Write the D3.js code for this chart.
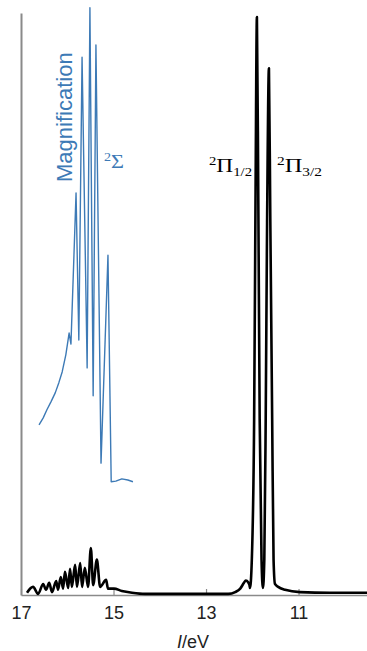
<!DOCTYPE html>
<meta charset='utf-8'>
<script src='https://cdnjs.cloudflare.com/ajax/libs/d3/7.8.5/d3.min.js'></script>
<style>body{margin:0;background:#fff;}</style>
<svg id='chart'></svg>
<script>
// photoelectron spectrum, energy (eV) vs intensity (arb.)
var blackEv=[16.87,16.74,16.63,16.52,16.46,16.39,16.33,16.24,16.20,16.14,16.09,16.05,15.98,15.94,15.90,15.83,15.79,15.72,15.68,15.62,15.55,15.49,15.44,15.36,15.29,15.16,15.12,14.99,14.82,14.60,14.32,12.52,12.37,12.26,12.18,12.14,12.09,12.06,12.05,12.01,11.96,11.93,11.90,11.87,11.84,11.80,11.77,11.74,11.71,11.68,11.64,11.61,11.57,11.54,11.51,11.44,11.29,10.97,10.32,9.52],
    blackInt=[0.2,1.2,0,1.7,0.7,1.9,0.3,2.2,0.7,2.9,0.9,3.8,1.0,4.3,1.2,5.0,1.2,5.3,1.2,4.5,1.2,7.9,1.5,5.9,1.2,2.4,0.9,0.9,0.5,0.2,0,0,0.3,0.9,1.9,2.3,2.0,1.5,1.0,5.9,30,68,99.3,68,30,5.9,1.0,5.9,30,64,90.5,64,30,5.9,1.7,1.2,0.7,0.3,0.2,0.2],
    blueEv=[16.61,16.52,16.44,16.35,16.26,16.18,16.11,16.03,15.96,15.92,15.81,15.75,15.68,15.57,15.51,15.44,15.38,15.27,15.12,15.05,14.95,14.82,14.69,14.58],
    blueInt=[29.1,30.3,31.7,33.1,34.6,36.4,38.2,41.2,44.9,43.0,69.0,43.7,92.4,38.9,100.9,34.1,94.5,22.5,58.3,19.3,19.4,19.8,19.6,19.3],
    xTicks=[17,15,13,11];
var W=367,H=651,blue='#3d7ab6',grey='#8a8a8a';
var svg=d3.select('#chart').attr('width',W).attr('height',H);
var x=d3.scaleLinear().domain([17,9.52]).range([21,367]),
    y=d3.scaleLinear().domain([-0.2,100]).range([595,13]);
function pts(ev,iv){return ev.map(function(e,i){return {e:e,v:iv[i]};});}
// axes
svg.append('g').attr('transform','translate(0,'+y(-0.2)+')')
   .call(d3.axisBottom(x).tickValues(xTicks).tickFormat(d3.format('d'))
         .tickSizeInner(-6).tickSizeOuter(0).tickPadding(11))
   .call(function(g){g.select('.domain').attr('stroke',grey).attr('stroke-width',1.5);
        g.selectAll('.tick line').attr('stroke',grey).attr('stroke-width',1.2);
        g.selectAll('.tick text').attr('fill','#222').style('font','18px "Liberation Sans",Arial,sans-serif');});
svg.append('g').attr('transform','translate('+x(17)+',0)')
   .call(d3.axisLeft(y).tickValues([]).tickSizeOuter(0))
   .select('.domain').attr('stroke',grey).attr('stroke-width',2);
// spectra
var lineB=d3.line().curve(d3.curveMonotoneX).x(function(d){return x(d.e);}).y(function(d){return y(d.v);});
var lineM=d3.line().x(function(d){return x(d.e);}).y(function(d){return y(d.v);});
svg.append('path').datum(pts(blueEv,blueInt)).attr('d',lineM)
   .attr('fill','none').attr('stroke',blue).attr('stroke-width',1.4).attr('stroke-linejoin','round');
svg.append('path').datum(pts(blackEv,blackInt)).attr('d',lineB)
   .attr('fill','none').attr('stroke','#000').attr('stroke-width',2.6).attr('stroke-linejoin','round');
// labels
svg.append('text').attr('transform','translate(72,182) rotate(-90)')
   .attr('fill',blue).style('font','22px "Liberation Sans",Arial,sans-serif').text('Magnification');
function term(tx,ty,col,sub,big,len){
  var t=svg.append('text').attr('x',tx).attr('y',ty).attr('fill',col)
           .attr('textLength',len).attr('lengthAdjust','spacingAndGlyphs')
           .style('font-family','"Liberation Serif","Times New Roman",serif').style('font-size','19px');
  t.append('tspan').attr('font-size',12).attr('dy',-7).text('2');
  t.append('tspan').attr('dy',7).text(big);
  if(sub) t.append('tspan').attr('font-size',12).attr('dy',4).text(sub);
}
term(104,168,blue,null,'\u03A3',20);
term(209,172,'#000','1/2','\u03A0',43);
term(277,172,'#000','3/2','\u03A0',45);
svg.append('text').attr('x',193).attr('y',648).attr('text-anchor','middle').attr('fill','#222')
   .style('font','18px "Liberation Sans",Arial,sans-serif')
   .call(function(t){t.append('tspan').style('font-style','italic').text('I');t.append('tspan').text('/eV');});
</script>
